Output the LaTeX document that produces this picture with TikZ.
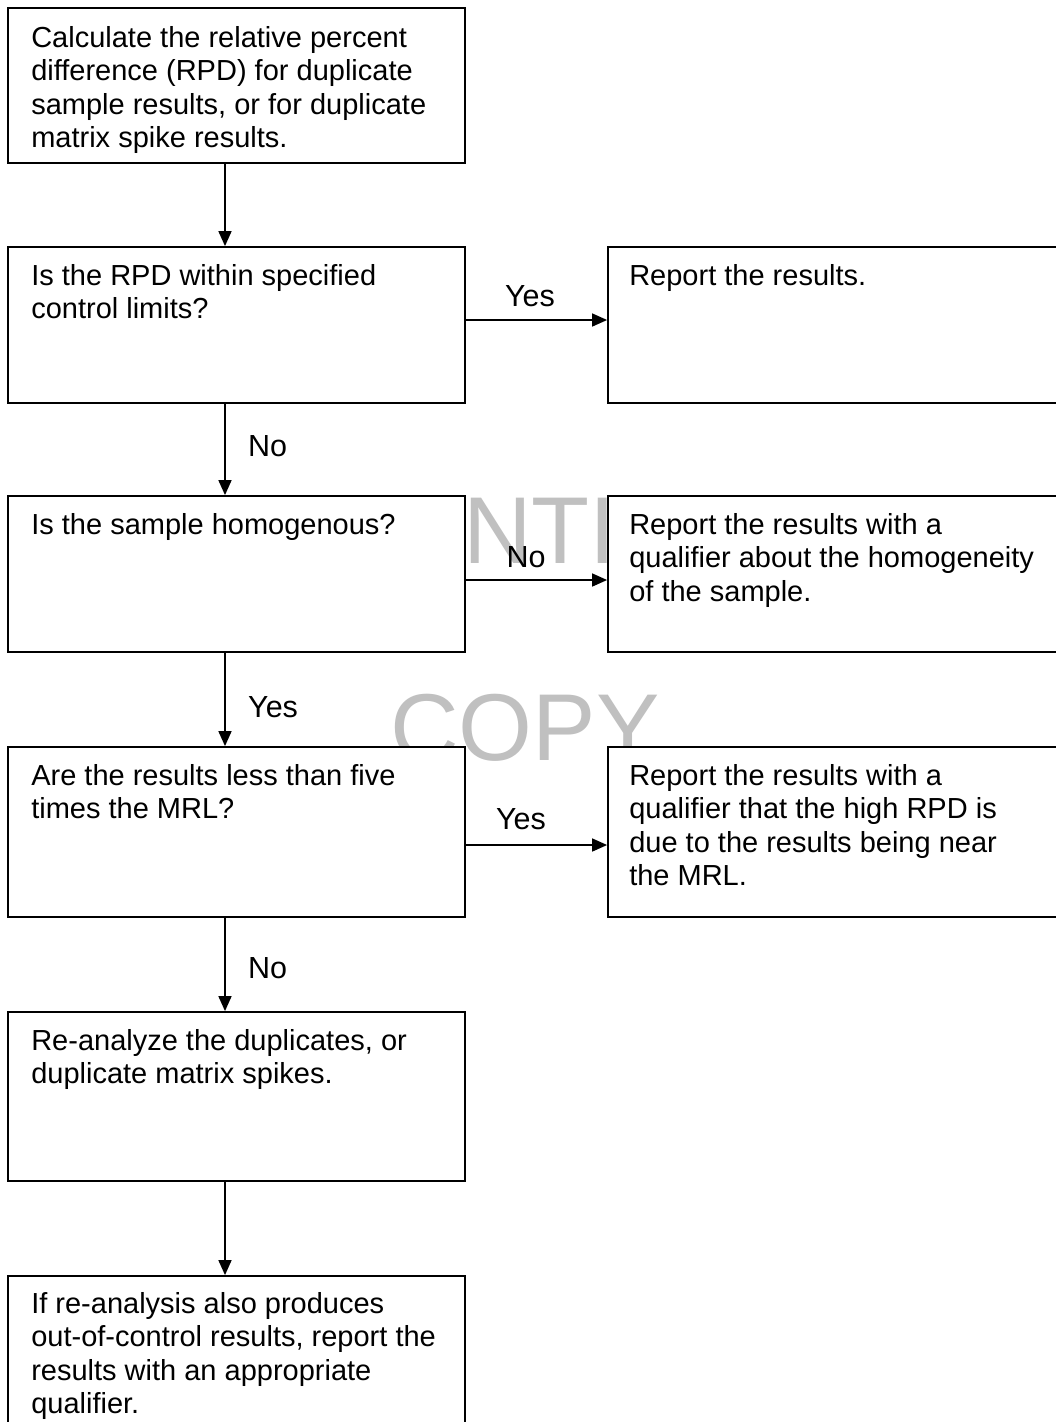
\documentclass[tikz,border=0pt]{standalone}
\usepackage{fontspec}
\setmainfont{Liberation Sans}
\usetikzlibrary{arrows.meta,calc}
\definecolor{wmgray}{RGB}{192,192,192}
\begin{document}
\begin{tikzpicture}[x=1pt,y=-1pt,
  box/.style={draw=black, line width=1.8pt, fill=white, inner sep=0pt},
  lbox/.style={box, minimum width=457pt},
  rbox/.style={box, minimum width=472pt},
  txt/.style={anchor=north west, inner sep=0pt, align=left,
    font=\fontsize{29}{33.4}\selectfont},
  lab/.style={inner sep=0pt, font=\fontsize{30.5}{34}\selectfont},
  wm/.style={inner sep=0pt, anchor=base west, text=wmgray,
    font=\fontsize{95}{100}\selectfont},
  arr/.style={line width=1.6pt, -{Triangle[length=15pt,width=13pt]}}]
\useasboundingbox (0,0) rectangle (1056,1422);
\clip (0,0) rectangle (1056,1422);
\fill[white] (0,0) rectangle (1056,1422);

% watermark behind the boxes
\node[wm] (wm1) at (463,563) {NTI};
\node[wm] (wm2) at (390,760) {COPY};

% left column
\node[lbox, minimum height=155pt] (L1) at (236.5,85.5) {};
\node[lbox, minimum height=156pt] (L2) at (236.5,325) {};
\node[lbox, minimum height=156pt] (L3) at (236.5,574) {};
\node[lbox, minimum height=170pt] (L4) at (236.5,832) {};
\node[lbox, minimum height=169pt] (L5) at (236.5,1096.5) {};
\node[lbox, minimum height=184pt] (L6) at (236.5,1368) {};

% right column
\node[rbox, minimum height=156pt] (R1) at (844,325) {};
\node[rbox, minimum height=156pt] (R2) at (844,574) {};
\node[rbox, minimum height=170pt] (R3) at (844,832) {};

% box texts
\node[txt] (t1) at ($(L1.north west)+(24,19)$) {Calculate the relative percent\\difference (RPD) for duplicate\\sample results, or for duplicate\\matrix spike results.};
\node[txt] (t2) at ($(L2.north west)+(24,18)$) {Is the RPD within specified\\control limits?};
\node[txt] (t3) at ($(L3.north west)+(24,18)$) {Is the sample homogenous?};
\node[txt] (t4) at ($(L4.north west)+(24,18)$) {Are the results less than five\\times the MRL?};
\node[txt] (t5) at ($(L5.north west)+(24,18)$) {Re-analyze the duplicates, or\\duplicate matrix spikes.};
\node[txt] (t6) at ($(L6.north west)+(24,17)$) {If re-analysis also produces\\out-of-control results, report the\\results with an appropriate\\qualifier.};
\node[txt] (t7) at ($(R1.north west)+(22,18)$) {Report the results.};
\node[txt] (t8) at ($(R2.north west)+(22,18)$) {Report the results with a\\qualifier about the homogeneity\\of the sample.};
\node[txt] (t9) at ($(R3.north west)+(22,18)$) {Report the results with a\\qualifier that the high RPD is\\due to the results being near\\the MRL.};

% connector guides
\coordinate (cx) at (225,0);
\coordinate (h1) at (0,320);
\coordinate (h2) at (0,580);
\coordinate (h3) at (0,845);

% vertical connectors
\draw[arr] (L1.south -| cx) -- (L2.north -| cx);
\draw[arr] (L2.south -| cx) -- (L3.north -| cx);
\draw[arr] (L3.south -| cx) -- (L4.north -| cx);
\draw[arr] (L4.south -| cx) -- (L5.north -| cx);
\draw[arr] (L5.south -| cx) -- (L6.north -| cx);

% horizontal connectors
\draw[arr] (L2.east |- h1) -- (R1.west |- h1);
\draw[arr] (L3.east |- h2) -- (R2.west |- h2);
\draw[arr] (L4.east |- h3) -- (R3.west |- h3);

% connector labels
\node[lab, anchor=base west] (n1) at (248,456) {No};
\node[lab, anchor=base west] (y1) at (248,717) {Yes};
\node[lab, anchor=base west] (n2) at (248,978) {No};
\node[lab, anchor=base] (y2) at (530,306) {Yes};
\node[lab, anchor=base] (n3) at (526,567) {No};
\node[lab, anchor=base] (y3) at (521,829) {Yes};
\end{tikzpicture}
\end{document}
